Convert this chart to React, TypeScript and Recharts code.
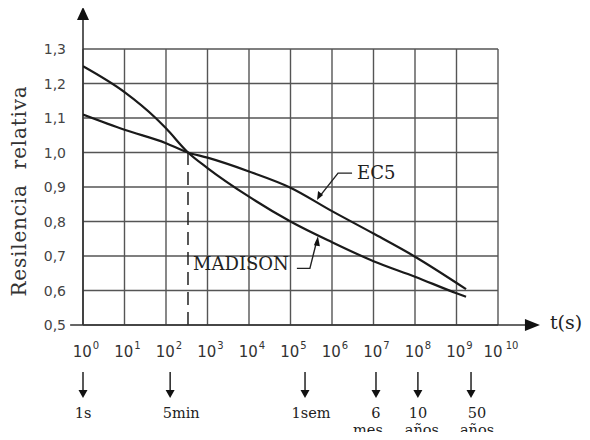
import React from 'react';
import {
  LineChart,
  Line,
  XAxis,
  YAxis,
  CartesianGrid,
  ReferenceLine,
  ReferenceDot,
  Label,
} from 'recharts';

// x values are decimal exponents of t (seconds): 10^x
const ec5T = [0, 1, 2, 2.53, 3, 4, 5, 6, 7, 8, 9.23];
const ec5R = [1.11, 1.066, 1.027, 1.0, 0.985, 0.945, 0.898, 0.83, 0.765, 0.698, 0.604];

const madisonT = [0, 1, 1.75, 2, 2.53, 3, 4, 5, 6, 7, 8, 9, 9.23];
const madisonR = [1.25, 1.175, 1.1, 1.07, 1.0, 0.955, 0.872, 0.8, 0.74, 0.685, 0.64, 0.592, 0.582];

const decadeTicks = [0, 1, 2, 3, 4, 5, 6, 7, 8, 9, 10];
const rTicks = [0.5, 0.6, 0.7, 0.8, 0.9, 1.0, 1.1, 1.2, 1.3];

const eventT = [0, 2.1, 5.35, 7.06, 8.07, 9.35];
const eventLine1 = ['1s', '5min', '1sem', '6', '10', '50'];
const eventLine2 = ['', '', '', 'mes', 'años', 'años'];

const crossT = 2.53;
const crossR = 1.0;

const ec5LabelAt = { t: 5.64, r: 0.862 };
const madisonLabelAt = { t: 5.66, r: 0.757 };

const xDomain: [number, number] = [0, 10];
const yDomain: [number, number] = [0.5, 1.3];
const yArrowTop = 1.422;
const xArrowStart = -0.31;
const xArrowTip = 11.01;

// styling only
const eventDx1 = [0, 11, 6, 0, 0, 6];
const eventDx2 = [0, 0, 0, -8, 4, 6];

const ec5Data = ec5T.map((t, i) => ({ t, r: ec5R[i] }));
const madisonData = madisonT.map((t, i) => ({ t, r: madisonR[i] }));

const SERIF = '"DejaVu Serif", serif';
const SANS = '"DejaVu Sans", sans-serif';
const INK = '#1a1a1a';

const YTick = (props: any) => {
  const { x, y, payload } = props;
  return (
    <text x={x} y={y} dy={5} textAnchor="end" fontFamily={SANS} fontSize={14} fill="#444">
      {Number(payload.value).toFixed(1).replace('.', ',')}
    </text>
  );
};

const XTick = (props: any) => {
  const { x, y, payload } = props;
  return (
    <text x={x + 3} y={y + 32} textAnchor="middle" fontFamily={SANS} fontSize={15} fill="#333">
      <tspan>10</tspan>
      <tspan dx={payload.value === 10 ? 3 : 1} dy={-8} fontSize={10}>
        {String(payload.value)}
      </tspan>
    </text>
  );
};

const EventTick = (props: any) => {
  const { x, y, index } = props;
  const l1 = eventLine1[index];
  const l2 = eventLine2[index];
  return (
    <g>
      <line x1={x} y1={y + 2} x2={x} y2={y + 21} stroke="#222" strokeWidth={1.5} />
      <polygon points={`${x - 4.5},${y + 20} ${x + 4.5},${y + 20} ${x},${y + 28}`} fill="#111" />
      <text x={x + eventDx1[index]} y={y + 48} textAnchor="middle" fontFamily={SERIF} fontSize={14.5} fill="#222">
        {l1}
      </text>
      {l2 ? (
        <text x={x + eventDx2[index]} y={y + 65} textAnchor="middle" fontFamily={SERIF} fontSize={14.5} fill="#222">
          {l2}
        </text>
      ) : null}
    </g>
  );
};

const YArrow = (props: any) => {
  const { cx, cy } = props;
  return <polygon points={`${cx},${cy} ${cx - 6},${cy + 13} ${cx + 6},${cy + 13}`} fill="#111" />;
};

const XArrow = (props: any) => {
  const { cx, cy } = props;
  return (
    <g>
      <polygon points={`${cx},${cy} ${cx - 15},${cy - 6} ${cx - 15},${cy + 6}`} fill="#111" />
      <text x={cx + 10} y={cy + 4} fontFamily={SERIF} fontSize={19} fill="#222">
        t(s)
      </text>
    </g>
  );
};

const Ec5Label = (props: any) => {
  const { cx, cy } = props;
  return (
    <g>
      <polyline
        points={`${cx + 2},${cy - 3} ${cx + 21},${cy - 27} ${cx + 35},${cy - 27}`}
        fill="none"
        stroke="#222"
        strokeWidth={1.4}
      />
      <polygon points={`${cx},${cy} ${cx + 1},${cy - 9} ${cx + 6},${cy - 5}`} fill="#111" />
      <text x={cx + 40} y={cy - 21} fontFamily={SERIF} fontSize={18} fill="#222">
        EC5
      </text>
    </g>
  );
};

const MadisonLabel = (props: any) => {
  const { cx, cy } = props;
  return (
    <g>
      <polyline
        points={`${cx - 1},${cy + 4} ${cx - 8},${cy + 32} ${cx - 21},${cy + 32}`}
        fill="none"
        stroke="#222"
        strokeWidth={1.4}
      />
      <polygon points={`${cx},${cy} ${cx - 4},${cy + 9} ${cx + 2},${cy + 10}`} fill="#111" />
      <text x={cx - 29} y={cy + 34} textAnchor="end" fontFamily={SERIF} fontSize={18} fill="#222">
        MADISON
      </text>
    </g>
  );
};

const YLabel = (props: any) => {
  const { viewBox } = props;
  const cx = 19;
  const cy = viewBox.y + viewBox.height / 2 + 4;
  return (
    <text
      x={cx}
      y={cy}
      transform={`rotate(-90, ${cx}, ${cy})`}
      textAnchor="middle"
      dominantBaseline="central"
      fontFamily={SERIF}
      fontSize={20}
      letterSpacing={0.8}
      wordSpacing={8}
      fill="#333"
    >
      Resilencia relativa
    </text>
  );
};

export default function App() {
  return (
    <div style={{ margin: '-8px', width: 590, height: 440, background: '#fff' }}>
      <LineChart width={590} height={440} margin={{ top: 49, right: 92, left: 0, bottom: 0 }}>
        <CartesianGrid stroke="#555" strokeWidth={1.4} />
        <XAxis
          dataKey="t"
          type="number"
          domain={xDomain}
          ticks={decadeTicks}
          interval={0}
          axisLine={false}
          tickLine={false}
          tickSize={0}
          tickMargin={0}
          height={45}
          tick={<XTick />}
          allowDataOverflow
        />
        <XAxis
          xAxisId="ev"
          dataKey="t"
          type="number"
          domain={xDomain}
          ticks={eventT}
          interval={0}
          axisLine={false}
          tickLine={false}
          tickSize={0}
          tickMargin={0}
          height={70}
          tick={<EventTick />}
          allowDataOverflow
        />
        <YAxis
          dataKey="r"
          type="number"
          domain={yDomain}
          ticks={rTicks}
          interval={0}
          width={83}
          axisLine={false}
          tickLine={false}
          tickSize={0}
          tickMargin={17}
          tick={<YTick />}
          allowDataOverflow
        >
          <Label content={<YLabel />} />
        </YAxis>
        <ReferenceLine
          segment={[
            { x: crossT, y: yDomain[0] },
            { x: crossT, y: crossR },
          ]}
          stroke="#222"
          strokeWidth={1.5}
          strokeDasharray="13 7"
          ifOverflow="visible"
        />
        <ReferenceLine
          segment={[
            { x: 0, y: yDomain[0] },
            { x: 0, y: yArrowTop - 0.03 },
          ]}
          stroke="#333"
          strokeWidth={1.6}
          ifOverflow="visible"
        />
        <ReferenceLine
          segment={[
            { x: xArrowStart, y: yDomain[0] },
            { x: xArrowTip - 0.3, y: yDomain[0] },
          ]}
          stroke="#333"
          strokeWidth={1.6}
          ifOverflow="visible"
        />
        <ReferenceDot x={0} y={yArrowTop} ifOverflow="visible" shape={<YArrow />} />
        <ReferenceDot x={xArrowTip} y={yDomain[0]} ifOverflow="visible" shape={<XArrow />} />
        <Line
          data={ec5Data}
          dataKey="r"
          type="monotone"
          stroke={INK}
          strokeWidth={2.2}
          dot={false}
          isAnimationActive={false}
        />
        <Line
          data={madisonData}
          dataKey="r"
          type="monotone"
          stroke={INK}
          strokeWidth={2.2}
          dot={false}
          isAnimationActive={false}
        />
        <ReferenceDot x={ec5LabelAt.t} y={ec5LabelAt.r} ifOverflow="visible" shape={<Ec5Label />} />
        <ReferenceDot x={madisonLabelAt.t} y={madisonLabelAt.r} ifOverflow="visible" shape={<MadisonLabel />} />
      </LineChart>
    </div>
  );
}
